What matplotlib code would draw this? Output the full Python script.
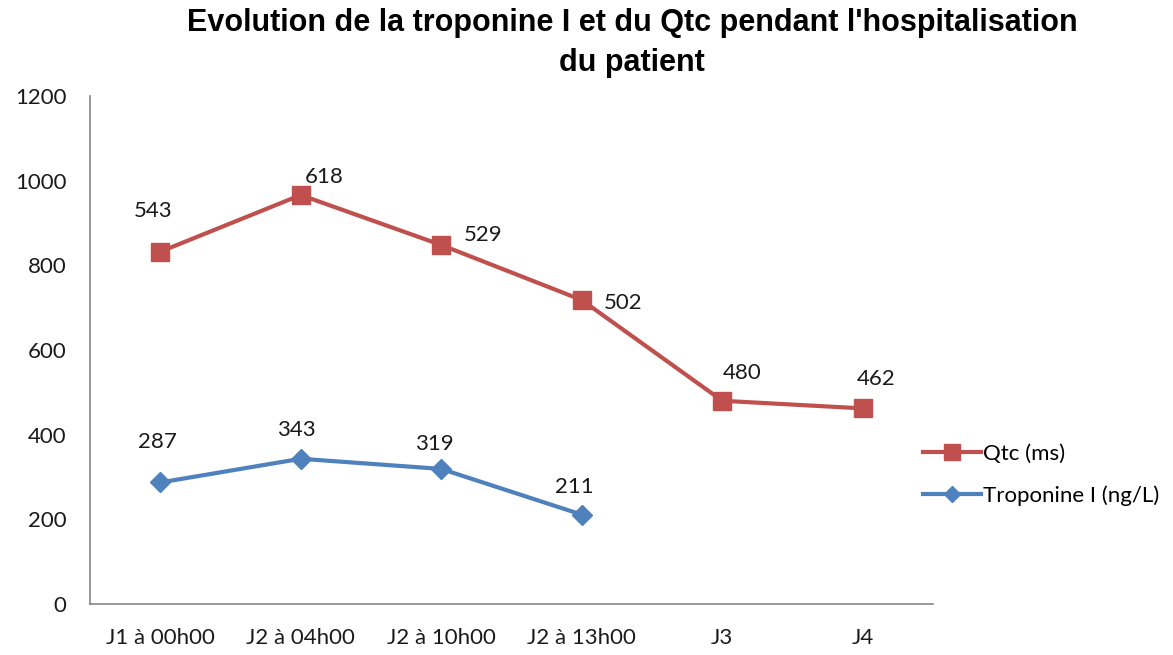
import matplotlib.pyplot as plt

categories = ["J1 à 00h00", "J2 à 04h00", "J2 à 10h00", "J2 à 13h00", "J3", "J4"]
qtc_plot = [832, 966, 848, 718, 480, 462]
qtc_labels = [543, 618, 529, 502, 480, 462]
tropo = [287, 343, 319, 211]
y_ticks = [0, 200, 400, 600, 800, 1000, 1200]

red = '#C0504D'
blue = '#4F81BD'
grey = '#868686'
body_font = ['Lato', 'DejaVu Sans']
fs = 16

fig = plt.figure(figsize=(11.73, 6.55), dpi=100)
ax = fig.add_axes([0.0767, 0.0779, 0.7187, 0.7756])

x = list(range(len(categories)))
ax.plot(x, qtc_plot, color=red, lw=3, marker='s', ms=13, label='Qtc (ms)')
ax.plot(x[:len(tropo)], tropo, color=blue, lw=3, marker='D', ms=10, label='Troponine I (ng/L)')

# data labels (offsets in points)
qtc_off = [(-5, 29), (17, 13), (30, 7), (30, -2), (14, 20), (10, 21)]
for i, v in enumerate(qtc_labels):
    ax.annotate(str(v), (x[i], qtc_plot[i]), xytext=qtc_off[i], textcoords='offset points',
                ha='center', va='center', fontsize=fs, family=body_font, color='#1a1a1a')
tropo_off = [(-2, 29), (-3, 21), (-5, 18), (-5, 20)]
for i, v in enumerate(tropo):
    ax.annotate(str(v), (x[i], v), xytext=tropo_off[i], textcoords='offset points',
                ha='center', va='center', fontsize=fs, family=body_font, color='#1a1a1a')

ax.set_xlim(-0.5, len(categories) - 0.5)
ax.set_ylim(0, 1200)
ax.set_yticks(y_ticks)
ax.set_xticks(x)
ax.set_xticklabels(categories)
for lab in ax.get_xticklabels() + ax.get_yticklabels():
    lab.set_family(body_font)
    lab.set_fontsize(fs)
    lab.set_color('#1a1a1a')
ax.tick_params(axis='y', length=0, pad=17)
ax.tick_params(axis='x', length=0, pad=17)

for s in ['top', 'right']:
    ax.spines[s].set_visible(False)
for s in ['left', 'bottom']:
    ax.spines[s].set_color(grey)
    ax.spines[s].set_linewidth(1.2)

leg = fig.legend(loc='center left', bbox_to_anchor=(0.77, 0.275), frameon=False,
                 handlelength=2.6, handletextpad=0.1, labelspacing=0.95, markerscale=0.85,
                 prop={'family': body_font, 'size': fs})

fig.text(0.539, 0.988, "Evolution de la troponine I et du Qtc pendant l'hospitalisation\ndu patient",
         ha='center', va='top', fontsize=22, fontweight='bold', family='Liberation Sans',
         linespacing=1.45)

plt.savefig("out.png", dpi=100)
